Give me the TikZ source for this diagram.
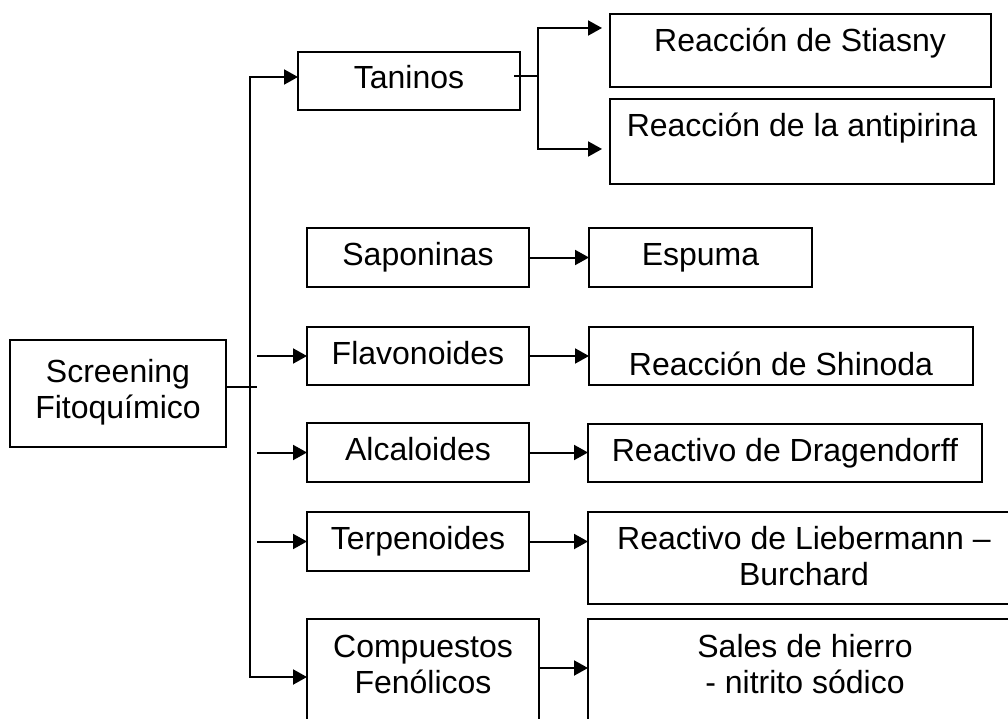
\documentclass[tikz,border=0pt]{standalone}
\usepackage{fontspec}
\setmainfont{Liberation Sans}
\usetikzlibrary{arrows.meta}

\begin{document}
\begin{tikzpicture}[x=1pt,y=-1pt,line width=2pt,>={Triangle[length=14pt,width=15pt]},
  caja/.style={draw,rectangle,inner sep=0pt,outer sep=0pt,anchor=north west},
  txt/.style={font=\fontsize{32}{36}\selectfont,inner sep=0pt,text height=23pt,text depth=7pt},
  txtdos/.style={font=\fontsize{32}{36}\selectfont,inner sep=0pt,align=center}]
\useasboundingbox (0,0) rectangle (1008,719);
\clip (0,0) rectangle (1008,719);
%\draw[step=50,very thin,color=gray] (0,0) grid (1008,719);
\node[caja,minimum width=216pt,minimum height=107pt] (scr) at (10,340) {};
\node[txtdos] (scrt) at (118,392) {Screening\\Fitoquímico};
\node[caja,txt,minimum width=222pt,minimum height=58pt] (tan) at (298,52) {Taninos};
\node[caja,minimum width=381pt,minimum height=73pt] (sti) at (610,14) {};
\node[txt] (stit) at (800,44) {Reacción de Stiasny};
\node[caja,minimum width=384pt,minimum height=85pt] (ant) at (610,99) {};
\node[txt] (antt) at (802,129) {Reacción de la antipirina};
\node[caja,txt,minimum width=222pt,minimum height=59pt] (sap) at (307,228) {Saponinas};
\node[caja,txt,minimum width=223pt,minimum height=59pt] (esp) at (589,228) {Espuma};
\node[caja,txt,minimum width=222pt,minimum height=58pt] (fla) at (307,327) {Flavonoides};
\node[caja,minimum width=384pt,minimum height=58pt] (shi) at (589,327) {};
\node[txt] (shit) at (781,367) {Reacción de Shinoda};
\node[caja,txt,minimum width=222pt,minimum height=59pt] (alc) at (307,423) {Alcaloides};
\node[caja,txt,minimum width=394pt,minimum height=58pt] (dra) at (588,424) {Reactivo de Dragendorff};
\node[caja,txt,minimum width=222pt,minimum height=59pt] (ter) at (307,512) {Terpenoides};
\node[caja,minimum width=450pt,minimum height=92pt] (lie) at (588,512) {};
\node[txtdos] (liet) at (804,556) {Reactivo de Liebermann --\\Burchard};
\node[caja,minimum width=232pt,minimum height=150pt] (com) at (307,619) {};
\node[txtdos] (comt) at (423,664) {Compuestos\\Fenólicos};
\node[caja,minimum width=450pt,minimum height=150pt] (sal) at (588,619) {};
\node[txtdos] (salt) at (805,664) {Sales de hierro\\- nitrito sódico};
% tronco
\coordinate (tronco) at (250,77);
\coordinate (pie) at (250,677);
\coordinate (cruce) at (257,387);
\draw ([yshift=6.5pt]scr.east) -- (cruce);
\draw[<->] (tan.west |- tronco) -- (tronco) -- (pie) -- (com.west |- pie);
\draw[->] (fla.west -| cruce) -- (fla.west);
\draw[->] (alc.west -| cruce) -- (alc.west);
\draw[->] (ter.west -| cruce) -- (ter.west);
% taninos
\coordinate (rama) at (538,76);
\coordinate (ramaarr) at (538,28);
\coordinate (ramaab) at (538,149);
\draw ([xshift=-6pt,yshift=5pt]tan.east) -- (rama);
\draw[<->,shorten <=8pt,shorten >=8pt] (sti.west |- ramaarr) -- (ramaarr) -- (ramaab) -- (ant.west |- ramaab);
% reactivos
\coordinate (scomp) at (0,668);
\draw[->] (sap.east) -- (esp.west);
\draw[->] (fla.east) -- (shi.west);
\draw[->] (alc.east) -- (alc.east -| dra.west);
\draw[->] (ter.east) -- (ter.east -| lie.west);
\draw[->] (com.east |- scomp) -- (sal.west |- scomp);
\end{tikzpicture}
\end{document}
